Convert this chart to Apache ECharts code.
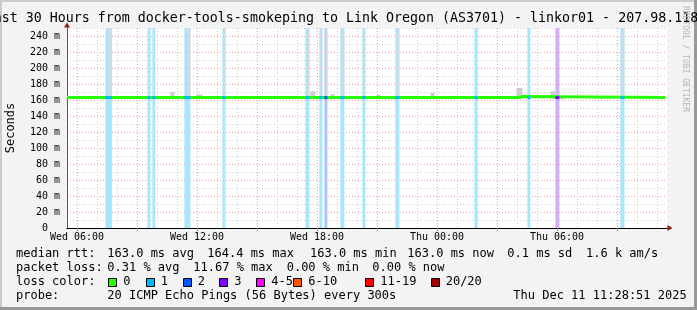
<!DOCTYPE html>
<html><head><meta charset="utf-8">
<script src="https://cdn.jsdelivr.net/npm/echarts@6/dist/echarts.min.js"></script>
<style>html,body{margin:0;padding:0;background:#f3f3f3;overflow:hidden}#c{width:697px;height:310px}</style>
</head><body><div id="c"></div>
<script>
// ================= DATA =================
const titleText = 'Last 30 Hours from docker-tools-smokeping to Link Oregon (AS3701) - linkor01 - 207.98.118';
const yAxisTitle = 'Seconds';
const watermark = 'RRDTOOL / TOBI OETIKER';
// x in hours since Wed 00:00
const xRange = [5.5, 35.5];
const xLabelHours = [6, 12, 18, 24, 30];
const xLabelTexts = ['Wed 06:00', 'Wed 12:00', 'Wed 18:00', 'Thu 00:00', 'Thu 06:00'];
const xMajorHours = [6, 9, 12, 15, 18, 21, 24, 27, 30, 33];
const xMinorHours = [6, 7, 8, 9, 10, 11, 12, 13, 14, 15, 16, 17, 18, 19, 20, 21, 22, 23, 24, 25, 26, 27, 28, 29, 30, 31, 32, 33, 34, 35];
// y in milliseconds
const yRange = [0, 250];
const yMajor = [0, 20, 40, 60, 80, 100, 120, 140, 160, 180, 200, 220, 240];
const yLabelTexts = ['0  ', '20 m', '40 m', '60 m', '80 m', '100 m', '120 m', '140 m', '160 m', '180 m', '200 m', '220 m', '240 m'];
const yMinorStep = 10;
// median rtt line
const medianX = [5.5, 28.1, 28.1, 28.25, 28.25, 35.42];
const medianY = [163.0, 163.0, 164.4, 164.4, 163.0, 163.0];
// loss periods
const lossStart = [7.42, 9.52, 9.77, 11.37, 13.27, 17.42, 18.12, 18.37, 19.17, 20.27, 21.92, 25.87, 28.52, 29.92, 33.17];
const lossEnd   = [7.75, 9.67, 9.92, 11.67, 13.42, 17.62, 18.27, 18.52, 19.37, 20.42, 22.12, 26.02, 28.67, 30.12, 33.37];
const lossLevel = [1, 1, 1, 1, 1, 1, 1, 2, 1, 1, 1, 1, 1, 3, 1];
const lossMedian = [163.0, 163.0, 163.0, 163.0, 163.0, 163.0, 163.0, 163.0, 163.0, 163.0, 163.0, 163.0, 163.0, 163.0, 163.0];
// smoke (ping spread)
const smokeStart = [7.58, 9.59, 11.52, 13.37, 17.52, 18.17, 18.42, 19.27, 20.37, 22.02, 33.27,
                    10.67, 11.97, 17.67, 18.67, 20.42, 20.97, 21.22, 23.67, 25.17, 27.97, 29.67, 30.12, 32.17, 34.67];
const smokeEnd   = [7.75, 9.67, 11.67, 13.42, 17.62, 18.27, 18.52, 19.37, 20.42, 22.12, 33.37,
                    10.87, 12.27, 17.92, 18.87, 20.62, 21.17, 21.37, 23.87, 25.27, 28.27, 29.92, 30.37, 32.27, 34.77];
const smokeLow   = [163, 163, 163, 163, 163, 163, 163, 163, 163, 163, 163,
                    161, 161, 161, 161, 161, 161, 161, 161, 161, 161, 161, 161, 161, 161];
const smokeHigh  = [250, 250, 250, 250, 250, 250, 250, 250, 250, 250, 250,
                    170, 167, 171, 167.5, 165, 166.5, 165, 169, 165, 175, 171, 165, 165, 165];
// legend
const lossNames = ['0', '1', '2', '3', '4-5', '6-10', '11-19', '20/20'];
const rowHeads = ['median rtt:', 'packet loss:', 'loss color:', 'probe:'];
const rttStats = ['163.0 ms avg', '164.4 ms max', '163.0 ms min', '163.0 ms now', '0.1 ms sd', '1.6 k am/s'];
const lossStats = ['0.31 % avg', '11.67 % max', '0.00 % min', '0.00 % now'];
const probeText = '20 ICMP Echo Pings (56 Bytes) every 300s';
const dateText = 'Thu Dec 11 11:28:51 2025';

// ================= STYLE / LAYOUT =================
const lossColors = ['#26ff00', '#00b8ff', '#0059ff', '#7e00ff', '#ff00ff', '#ff5500', '#ff0000', '#a00000'];
const lossLight  = ['#c8ffb8', '#a8e6fc', '#a8c4fc', '#d2b0fa', '#ffb0ff', '#ffc8a8', '#ffb0b0', '#e0a0a0'];
const MONO = '"DejaVu Sans Mono", monospace';
const rttX = [107.3, 207.3, 310, 407.3, 507.3, 586];
const lossX = [107.3, 193.3, 286.7, 372.3];
const boxX = [108.3, 145.7, 182.7, 219.3, 256.3, 293.3, 365.3, 430.7];
const rowY = [254, 268, 282, 296];

function t(x, y, text, size, extra) {
  return Object.assign({type: 'text', x: x, y: y, silent: true,
    style: Object.assign({text: text, font: size + 'px ' + MONO, fill: '#000',
      align: 'left', verticalAlign: 'middle', textAlign: 'left', textVerticalAlign: 'middle'}, {})}, extra || {});
}

const graphics = [];
// frame shading
graphics.push({type: 'rect', shape: {x: 0, y: 0, width: 697, height: 2}, style: {fill: '#cbcbcb'}, silent: true});
graphics.push({type: 'rect', shape: {x: 0, y: 0, width: 2, height: 310}, style: {fill: '#cbcbcb'}, silent: true});
graphics.push({type: 'rect', shape: {x: 694, y: 0, width: 3, height: 310}, style: {fill: '#999999'}, silent: true});
graphics.push({type: 'rect', shape: {x: 0, y: 307, width: 697, height: 3}, style: {fill: '#999999'}, silent: true});
// title
graphics.push(t(-14.3, 19, titleText, 13.3));
// y title
graphics.push(t(11, 128, yAxisTitle, 12, {rotation: Math.PI / 2}));
graphics[graphics.length - 1].style.align = 'center';
graphics[graphics.length - 1].style.textAlign = 'center';
// watermark
const wm = t(685, 59, watermark, 8, {rotation: -Math.PI / 2});
wm.style.align = 'center'; wm.style.textAlign = 'center'; wm.style.fill = '#b4b4b4';
graphics.push(wm);
// legend rows
rowHeads.forEach((h, i) => graphics.push(t(16, rowY[i], h, 12)));
rttStats.forEach((s, i) => graphics.push(t(rttX[i], rowY[0], s, 12)));
lossStats.forEach((s, i) => graphics.push(t(lossX[i], rowY[1], s, 12)));
lossNames.forEach((n, i) => {
  graphics.push({type: 'rect', silent: true, shape: {x: Math.round(boxX[i]) + 0.5, y: 278.5, width: 8, height: 8},
    style: {fill: lossColors[i], stroke: '#000', lineWidth: 1}});
  graphics.push(t(boxX[i] + 15, rowY[2], n, 12));
});
graphics.push(t(107.3, rowY[3], probeText, 12));
graphics.push(t(513.3, rowY[3], dateText, 12));

const axisFont = {fontFamily: MONO, fontSize: 10, color: '#000'};
const noShow = {show: false};

const option = {
  animation: false,
  backgroundColor: '#f3f3f3',
  grid: {left: 67, top: 28, width: 600, height: 200, show: true, backgroundColor: '#ffffff', borderWidth: 0, containLabel: false, outerBoundsMode: 'none'},
  xAxis: [
    { // minor hourly grid
      type: 'value', min: xRange[0], max: xRange[1], position: 'bottom', z: 0,
      axisLine: noShow, axisLabel: noShow,
      axisTick: {show: false, customValues: xMinorHours},
      splitLine: {show: true, lineStyle: {color: '#cfcfcf', width: 1, type: [1, 2]}}
    },
    { // arrow
      type: 'value', min: xRange[0], max: xRange[1], position: 'bottom', z: 1,
      axisLine: {show: true, onZero: false, symbol: ['none', 'triangle'], symbolSize: [6, 5], symbolOffset: [0, 3], lineStyle: {color: '#8b1a1a', width: 1}},
      axisLabel: noShow, axisTick: noShow, splitLine: noShow
    },
    { // main
      type: 'value', min: xRange[0], max: xRange[1], position: 'bottom', z: 2,
      axisLine: {show: true, onZero: false, lineStyle: {color: '#000', width: 1}},
      axisTick: {show: true, customValues: xMajorHours, length: 3, lineStyle: {color: '#f07070'}},
      axisLabel: Object.assign({show: true, customValues: xLabelHours, margin: 4,
        formatter: v => { const i = xLabelHours.indexOf(v); return i >= 0 ? xLabelTexts[i] : ''; }}, axisFont),
      splitLine: {show: true, lineStyle: {color: '#f5a0a0', width: 1, type: [1, 2]}}
    }
  ],
  yAxis: [
    { // minor
      type: 'value', min: yRange[0], max: yRange[1], interval: yMinorStep, position: 'left', z: 0,
      axisLine: noShow, axisLabel: noShow, axisTick: noShow,
      splitLine: {show: true, lineStyle: {color: '#cfcfcf', width: 1, type: [1, 2]}}
    },
    { // arrow
      type: 'value', min: yRange[0], max: yRange[1], position: 'left', z: 1,
      axisLine: {show: true, onZero: false, symbol: ['none', 'triangle'], symbolSize: [6, 5], symbolOffset: [0, 3], lineStyle: {color: '#8b1a1a', width: 1}},
      axisLabel: noShow, axisTick: noShow, splitLine: noShow
    },
    { // main
      type: 'value', min: yRange[0], max: yRange[1], position: 'left', z: 2,
      axisLine: {show: true, onZero: false, lineStyle: {color: '#555', width: 1}},
      axisTick: {show: false, customValues: yMajor},
      axisLabel: Object.assign({show: true, customValues: yMajor, margin: 7,
        formatter: v => { const i = yMajor.indexOf(v); return i >= 0 ? yLabelTexts[i] : ''; }}, axisFont),
      splitLine: {show: true, lineStyle: {color: '#f5a0a0', width: 1, type: [1, 2]}}
    }
  ],
  graphic: {elements: graphics},
  series: [
    {
      type: 'custom', xAxisIndex: 2, yAxisIndex: 2, z: 2, clip: true,
      data: lossStart.map((s, i) => [s, lossEnd[i], lossLevel[i]]),
      encode: {x: [0, 1]},
      renderItem: (params, api) => {
        const p0 = api.coord([api.value(0), yRange[1]]);
        const p1 = api.coord([api.value(1), yRange[0]]);
        return {type: 'rect', shape: {x: p0[0], y: p0[1], width: p1[0] - p0[0], height: p1[1] - p0[1]},
          style: {fill: lossLight[api.value(2)]}};
      }
    },
    {
      type: 'custom', xAxisIndex: 2, yAxisIndex: 2, z: 3, clip: true,
      data: smokeStart.map((s, i) => [s, smokeEnd[i], smokeLow[i], smokeHigh[i]]),
      encode: {x: [0, 1], y: [2, 3]},
      renderItem: (params, api) => {
        const p0 = api.coord([api.value(0), api.value(3)]);
        const p1 = api.coord([api.value(1), api.value(2)]);
        const tall = api.value(3) >= yRange[1];
        return {type: 'rect', shape: {x: p0[0], y: p0[1], width: p1[0] - p0[0], height: p1[1] - p0[1]},
          style: {fill: tall ? '#d6d9db' : '#cdcdcd'}};
      }
    },
    {
      type: 'line', xAxisIndex: 2, yAxisIndex: 2, z: 4,
      data: medianX.map((x, i) => [x, medianY[i]]),
      showSymbol: false, symbol: 'none',
      lineStyle: {color: lossColors[0], width: 3}
    },
    {
      type: 'custom', xAxisIndex: 2, yAxisIndex: 2, z: 5, clip: true,
      data: lossStart.map((s, i) => [s, lossEnd[i], lossLevel[i], lossMedian[i]]),
      encode: {x: [0, 1], y: 3},
      renderItem: (params, api) => {
        const p0 = api.coord([api.value(0), api.value(3)]);
        const p1 = api.coord([api.value(1), api.value(3)]);
        return {type: 'line', shape: {x1: p0[0], y1: p0[1], x2: p1[0], y2: p1[1]},
          style: {stroke: lossColors[api.value(2)], lineWidth: 3}};
      }
    }
  ]
};
const chart = echarts.init(document.getElementById('c'), null, {renderer: 'canvas'});
chart.setOption(option);
</script></body></html>
